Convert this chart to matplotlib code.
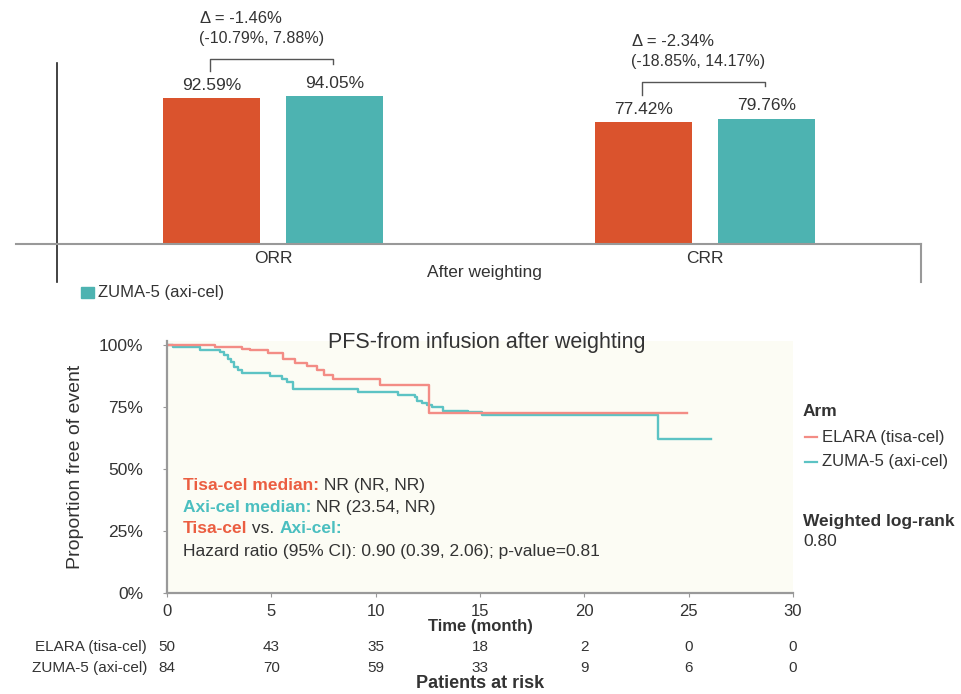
import matplotlib
matplotlib.use("Agg")
import matplotlib.pyplot as plt
from matplotlib.lines import Line2D
from matplotlib.patches import Rectangle
from matplotlib.transforms import blended_transform_factory
import numpy as np

plt.rcParams['font.family'] = ['Liberation Sans', 'DejaVu Sans']

# ---------------- data ----------------
categories = ["ORR", "CRR"]
group_label = "After weighting"
elara_rates = [92.59, 77.42]
zuma_rates = [94.05, 79.76]
delta_main = ["Δ = -1.46%", "Δ = -2.34%"]
delta_ci = ["(-10.79%, 7.88%)", "(-18.85%, 14.17%)"]
series_names = ["ELARA (tisa-cel)", "ZUMA-5 (axi-cel)"]

elara_t = [0, 2.3, 3.6, 4.0, 4.85, 5.57, 6.13, 6.69, 7.17, 7.5, 7.97, 10.2, 12.55, 24.9]
elara_s = [100, 99.2, 98.4, 97.7, 96.6, 94.3, 92.7, 91.5, 89.8, 87.8, 86.2, 83.8, 72.3, 72.3]
zuma_t = [0, 0.3, 1.58, 2.55, 2.75, 2.9, 3.05, 3.2, 3.4, 3.6, 4.94, 5.5, 5.74, 6.02,
          9.15, 11.08, 11.9, 12.0, 12.2, 12.44, 12.68, 13.24, 14.44, 15.08, 23.54, 26.05]
zuma_s = [100, 99.1, 98.0, 97.0, 95.7, 94.3, 93.0, 91.2, 90.0, 88.6, 87.2, 86.2, 84.9, 82.0,
          81.1, 79.9, 78.8, 77.5, 76.5, 75.5, 74.8, 73.4, 72.8, 71.6, 61.8, 61.8]

risk_times = [0, 5, 10, 15, 20, 25, 30]
elara_risk = [50, 43, 35, 18, 2, 0, 0]
zuma_risk = [84, 70, 59, 33, 9, 6, 0]
y_ticks = [0, 25, 50, 75, 100]
y_ticklabels = ["0%", "25%", "50%", "75%", "100%"]

km_title = "PFS-from infusion after weighting"
log_rank_p = "0.80"

# ---------------- style ----------------
RED_BAR = "#DA532D"
TEAL_BAR = "#4DB3B1"
RED_TXT = "#EB5E41"
TEAL_TXT = "#4BBFC0"
RED_LINE = "#F38C85"
TEAL_LINE = "#5CC3C4"
DARK = "#333333"

W, H = 961, 694
fig = plt.figure(figsize=(W / 100, H / 100), dpi=100)


def fx(px):
    return px / W


def fy(py):
    return 1 - py / H


# ---------------- top bar chart ----------------
pxs_per_pct = 1.573
ax1 = fig.add_axes([fx(57), fy(244), 864 / W, 244 / H])
ax1.set_xlim(-0.5, 1.5)
ax1.set_ylim(0, 244 / pxs_per_pct)
for s in ax1.spines.values():
    s.set_visible(False)
ax1.set_yticks([])
x = np.arange(len(categories))
off, bw = 0.142, 0.224
ax1.bar(x - off, elara_rates, width=bw, color=RED_BAR)
ax1.bar(x + off, zuma_rates, width=bw, color=TEAL_BAR)
ax1.set_xticks(x)
ax1.set_xticklabels(categories, fontsize=12.5, color=DARK)
ax1.tick_params(axis='x', length=0, pad=5)

for i in range(len(categories)):
    for xv, v in ((x[i] - off, elara_rates[i]), (x[i] + off, zuma_rates[i])):
        ax1.annotate(f"{v:.2f}%", xy=(xv, v), xytext=(0, 9.4), textcoords='offset points',
                     ha='center', va='center', fontsize=12.5, color=DARK)
    by = max(elara_rates[i], zuma_rates[i]) + 23.5
    xl, xr = x[i] - off - 0.004, x[i] + off - 0.004
    ax1.plot([xl, xl, xr, xr], [elara_rates[i] + 17.3, by, by, zuma_rates[i] + 20.5],
             color="#555555", lw=1.0, clip_on=False)
    ax1.text(x[i] - off - 0.03, by + 12.8, delta_ci[i], ha='left', va='center',
             fontsize=11.5, color=DARK)
    ax1.text(x[i] - off - 0.028, by + 25.5, delta_main[i], ha='left', va='center',
             fontsize=12, color=DARK)

below = -38 / pxs_per_pct
ax1.plot([-0.5, -0.5], [115, below], color="#222222", lw=1.2, clip_on=False)
ax1.plot([-0.5 + (16 - 57) / 432, 1.5], [0, 0], color="#999999", lw=1.5, clip_on=False)
ax1.plot([1.5, 1.5], [0, below], color="#999999", lw=1.5, clip_on=False)
ax1.text(0.49, -18.4, group_label, ha='center', va='center', fontsize=12.5, color=DARK)

fig.patches.append(Rectangle((fx(81), fy(298.3)), 13 / W, 11 / H,
                             transform=fig.transFigure, color=TEAL_BAR))
fig.text(fx(98), fy(293), series_names[1], ha='left', va='center', fontsize=12, color=DARK)

# ---------------- KM plot ----------------
ax2 = fig.add_axes([fx(167), fy(592.7), 626 / W, 251.7 / H])
ax2.set_facecolor("#FCFCF4")
ax2.set_xlim(0, 30)
ax2.set_ylim(0, 101.5)
for s in ("top", "right"):
    ax2.spines[s].set_visible(False)
for s in ("left", "bottom"):
    ax2.spines[s].set_color("#999999")
    ax2.spines[s].set_linewidth(1.6)

ax2.step(zuma_t, zuma_s, where='post', color=TEAL_LINE, lw=1.7)
ax2.step(elara_t, elara_s, where='post', color=RED_LINE, lw=1.7)

ax2.set_xticks(risk_times)
ax2.set_xticklabels([str(t) for t in risk_times], fontsize=12, color=DARK)
ax2.set_yticks(y_ticks)
ax2.set_yticklabels(y_ticklabels, fontsize=12.5, color=DARK)
ax2.tick_params(axis='both', length=3, color="#999999")
ax2.tick_params(axis='y', pad=14)
ax2.tick_params(axis='x', pad=5)
ax2.set_ylabel("Proportion free of event", fontsize=14, color=DARK)
ax2.yaxis.set_label_coords(-0.132, 0.5)

ax2.text(15.33, 101.0, km_title, ha='center', va='center', fontsize=15.5, color=DARK)


def colored_line(x0, y0, parts):
    prev = None
    for s, col, wt in parts:
        if prev is None:
            prev = ax2.text(x0, y0, s, color=col, fontweight=wt, fontsize=12.5,
                            ha='left', va='center')
        else:
            prev = ax2.annotate(s, xy=(1, 0.5), xycoords=prev, color=col, fontweight=wt,
                                fontsize=12.5, ha='left', va='center')


colored_line(0.75, 43.4, [("Tisa-cel median:", RED_TXT, 'bold'), (" NR (NR, NR)", DARK, 'normal')])
colored_line(0.75, 34.3, [("Axi-cel median:", TEAL_TXT, 'bold'), (" NR (23.54, NR)", DARK, 'normal')])
colored_line(0.75, 25.7, [("Tisa-cel", RED_TXT, 'bold'), (" vs. ", DARK, 'normal'),
                          ("Axi-cel:", TEAL_TXT, 'bold')])
colored_line(0.75, 16.8, [("Hazard ratio (95% CI): 0.90 (0.39, 2.06); p-value=0.81", DARK, 'normal')])

# legend (manual)
fig.text(fx(803), fy(411.7), "Arm", fontsize=12.5, fontweight='bold', color=DARK,
         ha='left', va='center')
for yy, col, name in ((437.3, RED_LINE, series_names[0]), (461.7, TEAL_LINE, series_names[1])):
    fig.add_artist(Line2D([fx(805), fx(817)], [fy(yy), fy(yy)], color=col, lw=1.6,
                          transform=fig.transFigure))
    fig.text(fx(821.7), fy(yy), name, fontsize=12, color=DARK, ha='left', va='center')
fig.text(fx(803), fy(521.7), "Weighted log-rank", fontsize=12.5, fontweight='bold',
         color=DARK, ha='left', va='center')
fig.text(fx(803), fy(541.7), log_rank_p, fontsize=12.5, color=DARK, ha='left', va='center')

# axis title and risk table
fig.text(fx(480), fy(626), "Time (month)", fontsize=12, fontweight='bold', color=DARK,
         ha='center', va='center')
tr = blended_transform_factory(ax2.transData, fig.transFigure)
for yy, name, vals in ((646.7, series_names[0], elara_risk), (667.7, series_names[1], zuma_risk)):
    fig.text(fx(147), fy(yy), name, fontsize=11, color=DARK, ha='right', va='center')
    for t, v in zip(risk_times, vals):
        ax2.text(t, fy(yy), str(v), transform=tr, fontsize=11, color=DARK,
                 ha='center', va='center', clip_on=False)
fig.text(fx(480), fy(684), "Patients at risk", fontsize=13, fontweight='bold', color=DARK,
         ha='center', va='center')

fig.savefig("out.png", dpi=100)
